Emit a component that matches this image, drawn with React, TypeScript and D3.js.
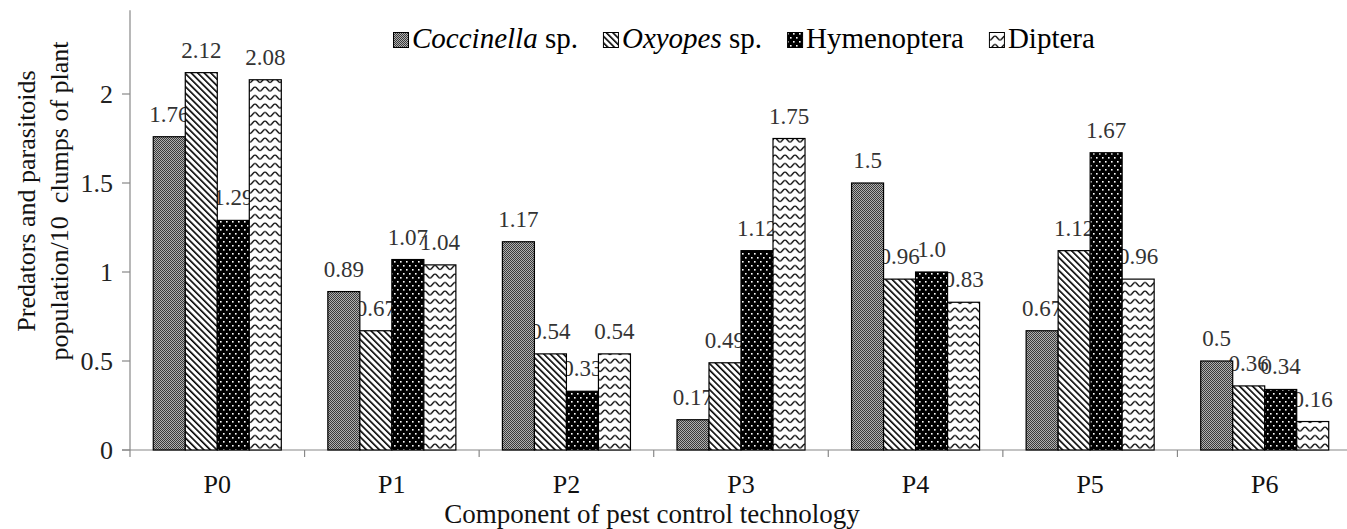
import React, { useEffect, useRef } from 'react';
import * as d3 from 'd3';

const categories = ['P0', 'P1', 'P2', 'P3', 'P4', 'P5', 'P6'];
const seriesKeys = ['coccinella', 'oxyopes', 'hymenoptera', 'diptera'];
const seriesItalic = ['Coccinella', 'Oxyopes', '', ''];
const seriesPlain = [' sp.', ' sp.', 'Hymenoptera', 'Diptera'];
// values as printed on the chart's data labels
const coccinella = ['1.76', '0.89', '1.17', '0.17', '1.5', '0.67', '0.5'];
const oxyopes = ['2.12', '0.67', '0.54', '0.49', '0.96', '1.12', '0.36'];
const hymenoptera = ['1.29', '1.07', '0.33', '1.12', '1.0', '1.67', '0.34'];
const diptera = ['2.08', '1.04', '0.54', '1.75', '0.83', '0.96', '0.16'];
const yTicks = [0, 0.5, 1, 1.5, 2];
const yTitleLines = ['Predators and parasitoids', 'population/10  clumps of plant'];
const xTitle = 'Component of pest control technology';

const FONT = "'Liberation Serif', 'Times New Roman', serif";

export default function App() {
  const ref = useRef<SVGSVGElement | null>(null);

  useEffect(() => {
    const svg = d3.select(ref.current);
    svg.selectAll('*').remove();

    const W = 1347, H = 529;
    const left = 130, right = 1352, bottom = 450;
    const x0 = d3.scaleBand<string>().domain(categories).range([left, right]);
    const x1 = d3.scaleBand<string>().domain(seriesKeys).range([0, x0.bandwidth()]).paddingOuter(0.727);
    const y = d3.scaleLinear().domain([0, 2.5]).range([bottom, 5]);

    const defs = svg.append('defs');
    // Coccinella: fine stipple (gray)
    const p0 = defs.append('pattern').attr('id', 'pat0').attr('patternUnits', 'userSpaceOnUse').attr('width', 2).attr('height', 2);
    p0.append('rect').attr('width', 2).attr('height', 2).attr('fill', '#b0b0b0');
    p0.append('rect').attr('width', 1).attr('height', 1).attr('fill', '#3a3a3a');
    p0.append('rect').attr('x', 1).attr('y', 1).attr('width', 1).attr('height', 1).attr('fill', '#3a3a3a');
    // Oxyopes: diagonal \ lines
    const p1 = defs.append('pattern').attr('id', 'pat1').attr('patternUnits', 'userSpaceOnUse')
      .attr('width', 4.6).attr('height', 10).attr('patternTransform', 'rotate(-45)');
    p1.append('rect').attr('width', 4.6).attr('height', 10).attr('fill', '#fff');
    p1.append('rect').attr('width', 1.6).attr('height', 10).attr('fill', '#000');
    // Hymenoptera: black with white dots
    const p2 = defs.append('pattern').attr('id', 'pat2').attr('patternUnits', 'userSpaceOnUse').attr('width', 6).attr('height', 8);
    p2.append('rect').attr('width', 6).attr('height', 8).attr('fill', '#000');
    p2.append('rect').attr('x', 1).attr('y', 1).attr('width', 1.6).attr('height', 1.6).attr('fill', '#fff');
    p2.append('rect').attr('x', 4).attr('y', 5).attr('width', 1.6).attr('height', 1.6).attr('fill', '#fff');
    // Diptera: wavy lines
    const p3 = defs.append('pattern').attr('id', 'pat3').attr('patternUnits', 'userSpaceOnUse').attr('width', 10).attr('height', 8.5);
    p3.append('rect').attr('width', 10).attr('height', 8.5).attr('fill', '#fff');
    p3.append('path').attr('d', 'M0,6 C2,6 3,2 5,2 C7,2 8,6 10,6').attr('fill', 'none').attr('stroke', '#000').attr('stroke-width', 1.3);

    const seriesValues: Record<string, string[]> = { coccinella, oxyopes, hymenoptera, diptera };

    svg.append('rect').attr('width', W).attr('height', H).attr('fill', '#fff');

    // axes
    const axisColor = '#888';
    svg.append('line').attr('x1', left).attr('x2', left).attr('y1', y(0)).attr('y2', y(2.47))
      .attr('stroke', axisColor).attr('stroke-width', 1.2);
    svg.append('line').attr('x1', left - 8).attr('x2', W).attr('y1', bottom).attr('y2', bottom)
      .attr('stroke', axisColor).attr('stroke-width', 1.2);
    yTicks.forEach(t => {
      svg.append('line').attr('x1', left - 8).attr('x2', left).attr('y1', y(t)).attr('y2', y(t)).attr('stroke', axisColor).attr('stroke-width', 1.2);
      svg.append('text').attr('x', 113).attr('y', y(t)).attr('dy', '0.33em').attr('text-anchor', 'end')
        .attr('font-family', FONT).attr('font-size', 26).attr('fill', '#222').text(String(t));
    });
    categories.forEach(c => {
      const xs = x0(c)!;
      svg.append('line').attr('x1', xs).attr('x2', xs).attr('y1', bottom).attr('y2', bottom + 7).attr('stroke', axisColor).attr('stroke-width', 1.2);
      svg.append('text').attr('x', xs + x0.bandwidth() / 2).attr('y', 493).attr('text-anchor', 'middle')
        .attr('font-family', FONT).attr('font-size', 26).attr('fill', '#111').text(c);
    });

    // data labels (drawn beneath bars)
    seriesKeys.forEach((k) => {
      seriesValues[k].forEach((v, i) => {
        const cx = x0(categories[i])! + x1(k)! + x1.bandwidth() / 2;
        svg.append('text').attr('x', cx).attr('y', y(+v) - 15).attr('text-anchor', 'middle')
          .attr('font-family', FONT).attr('font-size', 23).attr('fill', '#333').text(v);
      });
    });

    // bars
    seriesKeys.forEach((k, si) => {
      seriesValues[k].forEach((v, i) => {
        const bx = x0(categories[i])! + x1(k)!;
        svg.append('rect').attr('x', bx).attr('y', y(+v)).attr('width', x1.bandwidth()).attr('height', y(0) - y(+v))
          .attr('fill', `url(#pat${si})`).attr('stroke', '#000').attr('stroke-width', 1.2);
      });
    });

    // legend
    let lx = 393;
    seriesKeys.forEach((k, si) => {
      svg.append('rect').attr('x', lx + 0.5).attr('y', 32.5).attr('width', 15).attr('height', 15)
        .attr('fill', `url(#pat${si})`).attr('stroke', '#000').attr('stroke-width', 1);
      const t = svg.append('text').attr('x', lx + 19).attr('y', 48).attr('font-family', FONT).attr('font-size', 29).attr('fill', '#000');
      if (seriesItalic[si]) t.append('tspan').attr('font-style', 'italic').text(seriesItalic[si]);
      t.append('tspan').style('white-space', 'pre').text(seriesPlain[si]);
      const w = (t.node() as SVGTextElement).getComputedTextLength();
      lx += 19 + w + 25;
    });

    // axis titles
    yTitleLines.forEach((line, li) => {
      svg.append('text').attr('transform', `translate(${35 + li * 33},201) rotate(-90)`).attr('text-anchor', 'middle')
        .attr('font-family', FONT).attr('font-size', 26).attr('fill', '#111').style('white-space', 'pre').text(line);
    });
    svg.append('text').attr('x', 652).attr('y', 523).attr('text-anchor', 'middle')
      .attr('font-family', FONT).attr('font-size', 27).attr('fill', '#111').text(xTitle);
  }, []);

  return (
    <svg ref={ref} width={1347} height={529} style={{ position: 'absolute', left: 0, top: 0, display: 'block' }} />
  );
}
